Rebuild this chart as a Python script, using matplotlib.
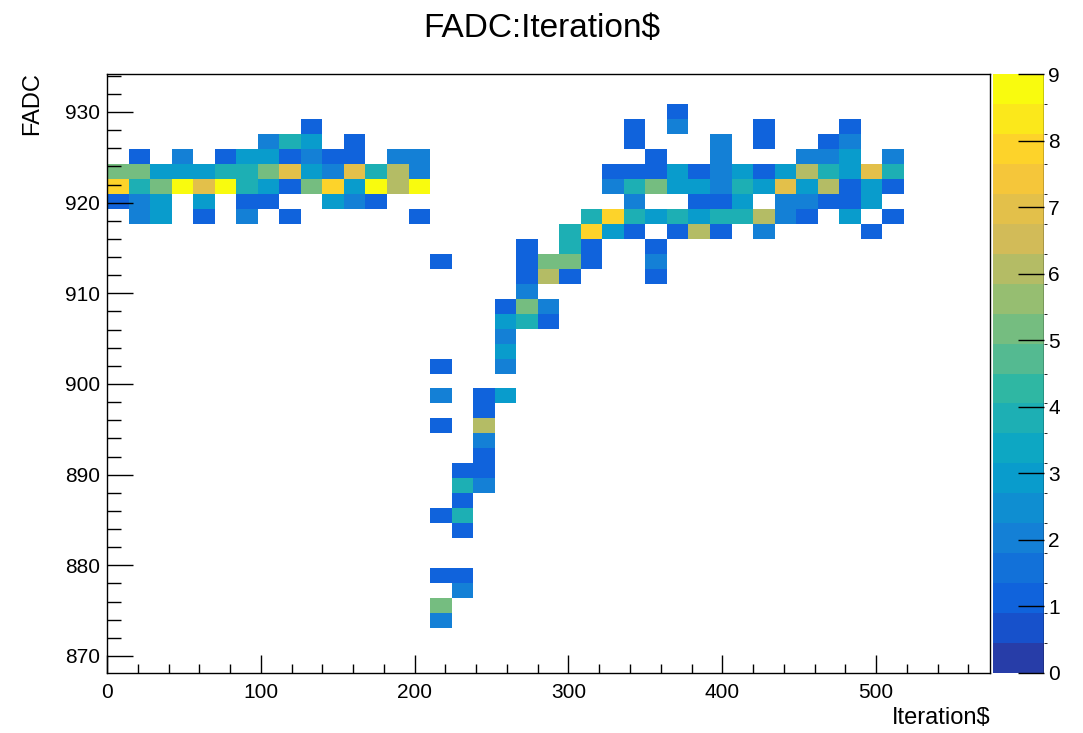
import numpy as np
import matplotlib.pyplot as plt
from matplotlib.colors import LinearSegmentedColormap, ListedColormap, BoundaryNorm
from matplotlib.ticker import MultipleLocator

plt.rcParams['font.family'] = ['Liberation Sans', 'DejaVu Sans']

# histogram binning (ROOT TH2 style)
x_lo, x_hi, nx = 0, 574, 41
y_lo, y_hi, ny = 868.12, 934.19, 40

# filled bins: iteration bin, FADC bin (counted from the top), entries
ix = [9,
      7, 8, 9, 11,
      1, 3, 5, 6, 7, 8, 9, 10, 11, 13, 14,
      0, 1, 2, 3, 4, 5, 6, 7, 8, 9, 10, 11, 12, 13, 14,
      0, 1, 2, 3, 4, 5, 6, 7, 8, 9, 10, 11, 12, 13, 14,
      0, 1, 2, 4, 6, 7, 10, 11, 12,
      1, 2, 4, 6, 8, 14,
      15, 15, 15, 15, 15, 15, 15, 15,
      16, 16, 16, 16, 16, 16, 16,
      17, 17, 17, 17, 17, 17, 17,
      18, 18, 18, 18, 18, 18,
      19, 19, 19, 19, 19, 19,
      20, 20, 20, 20,
      21, 21, 21, 21,
      22, 22, 22, 22,
      26,
      24, 26, 30, 34,
      24, 28, 30, 33, 34,
      25, 28, 32, 33, 34, 36,
      23, 24, 25, 26, 27, 28, 29, 30, 31, 32, 33, 34, 35, 36,
      23, 24, 25, 26, 27, 28, 29, 30, 31, 32, 33, 34, 35, 36,
      24, 27, 28, 29, 31, 32, 33, 34, 35,
      23, 24, 25, 26, 27, 28, 29, 30, 31, 32, 34, 36,
      23, 24, 26, 27, 28, 30, 35,
      25, 25, 25]
iy = [3,
      4, 4, 4, 4,
      5, 5, 5, 5, 5, 5, 5, 5, 5, 5, 5,
      6, 6, 6, 6, 6, 6, 6, 6, 6, 6, 6, 6, 6, 6, 6,
      7, 7, 7, 7, 7, 7, 7, 7, 7, 7, 7, 7, 7, 7, 7,
      8, 8, 8, 8, 8, 8, 8, 8, 8,
      9, 9, 9, 9, 9, 9,
      12, 19, 21, 23, 29, 33, 35, 36,
      26, 27, 28, 29, 30, 33, 34,
      21, 22, 23, 24, 25, 26, 27,
      15, 16, 17, 18, 19, 21,
      11, 12, 13, 14, 15, 16,
      12, 13, 15, 16,
      10, 11, 12, 13,
      9, 10, 11, 12,
      2,
      3, 3, 3, 3,
      4, 4, 4, 4, 4,
      5, 5, 5, 5, 5, 5,
      6, 6, 6, 6, 6, 6, 6, 6, 6, 6, 6, 6, 6, 6,
      7, 7, 7, 7, 7, 7, 7, 7, 7, 7, 7, 7, 7, 7,
      8, 8, 8, 8, 8, 8, 8, 8, 8,
      9, 9, 9, 9, 9, 9, 9, 9, 9, 9, 9, 9,
      10, 10, 10, 10, 10, 10, 10,
      11, 12, 13]
cnt = [1,
       2, 4, 3, 1,
       1, 2, 1, 3, 3, 1, 2, 1, 1, 2, 2,
       5, 5, 3, 3, 3, 4, 4, 5, 7, 3, 2, 7, 4, 6, 2,
       8, 4, 5, 9, 7, 9, 4, 3, 1, 5, 8, 3, 9, 6, 9,
       1, 2, 3, 3, 1, 1, 3, 2, 1,
       2, 3, 1, 2, 1, 1,
       1, 1, 2, 1, 1, 1, 5, 2,
       1, 4, 1, 4, 1, 1, 2,
       1, 1, 6, 2, 1, 1, 2,
       1, 3, 2, 3, 2, 3,
       1, 1, 1, 2, 5, 4,
       5, 6, 2, 1,
       4, 4, 5, 1,
       4, 8, 1, 1,
       1,
       1, 2, 1, 1,
       1, 2, 1, 1, 2,
       1, 2, 2, 2, 3, 2,
       1, 1, 1, 3, 1, 2, 3, 1, 3, 6, 4, 3, 7, 4,
       2, 4, 5, 3, 3, 2, 4, 3, 7, 3, 6, 1, 3, 1,
       2, 1, 1, 3, 2, 2, 1, 1, 3,
       8, 4, 3, 4, 3, 4, 4, 6, 2, 1, 3, 1,
       3, 1, 1, 6, 1, 2, 1,
       1, 2, 1]

h = np.zeros((ny, nx))
for i, r, c in zip(ix, iy, cnt):
    h[ny - 1 - r, i] = c
hm = np.ma.masked_equal(h, 0)
xe = np.linspace(x_lo, x_hi, nx + 1)
ye = np.linspace(y_lo, y_hi, ny + 1)

# ROOT kBird palette (255 colours), 20 contours picked the way ROOT does
bird = LinearSegmentedColormap.from_list('bird', [
    (0.2082, 0.1664, 0.5293), (0.0592, 0.3599, 0.8684), (0.0780, 0.5041, 0.8385),
    (0.0232, 0.6419, 0.7914), (0.1802, 0.7178, 0.6425), (0.5301, 0.7492, 0.4662),
    (0.8186, 0.7328, 0.3499), (0.9956, 0.7862, 0.1968), (0.9764, 0.9832, 0.0539)])
idx = np.array([int((k + 0.99) * 255 / 20) for k in range(20)])
cmap = ListedColormap(bird(np.minimum(idx, 254) / 254))
norm = BoundaryNorm(np.linspace(0, 9, 21), 20)

fig = plt.figure(figsize=(10.83, 7.33), dpi=100)
ax = fig.add_axes([107/1083, 60/733, 883/1083, 599/733])
mesh = ax.pcolormesh(xe, ye, hm, cmap=cmap, norm=norm)
ax.set_xlim(x_lo, x_hi)
ax.set_ylim(y_lo, y_hi)
ax.xaxis.set_major_locator(MultipleLocator(100))
ax.xaxis.set_minor_locator(MultipleLocator(20))
ax.yaxis.set_major_locator(MultipleLocator(10))
ax.yaxis.set_minor_locator(MultipleLocator(2))
ax.tick_params(axis='x', which='major', direction='in', length=13, width=1, pad=7, labelsize=15)
ax.tick_params(axis='x', which='minor', direction='in', length=6.5, width=1)
ax.tick_params(axis='y', which='major', direction='in', length=19, width=1, pad=5, labelsize=15)
ax.tick_params(axis='y', which='minor', direction='in', length=10, width=1)
for s in ax.spines.values():
    s.set_linewidth(1)

cax = fig.add_axes([993/1083, 60/733, 51/1083, 599/733])
cb = fig.colorbar(mesh, cax=cax, ticks=range(10))
cb.outline.set_visible(False)
cax.axvline(1, color='black', lw=1)
cax.tick_params(direction='in', length=19, width=1, pad=3, labelsize=15)

fig.text(0.5, 1 - 28/733, 'FADC:Iteration$', ha='center', va='center', fontsize=24)
fig.text(32/1083, 1 - 72/733, 'FADC', rotation=90, ha='center', va='top', fontsize=17)
fig.text(990/1083, 1 - 718/733, 'Iteration$', ha='right', va='center', fontsize=17)

fig.savefig('out.png', dpi=100)
